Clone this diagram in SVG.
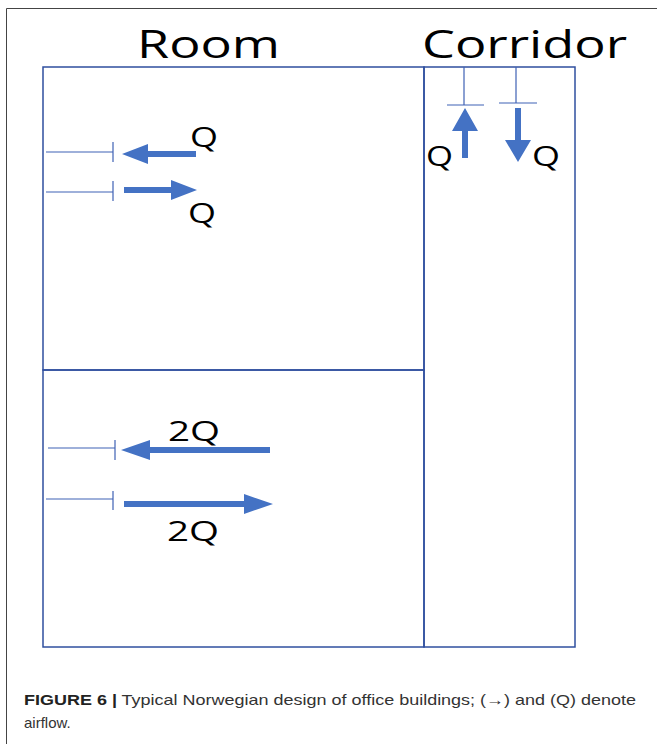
<svg xmlns="http://www.w3.org/2000/svg" width="657" height="744" viewBox="0 0 657 744">
<style>
.frame{fill:none;stroke:#2f4f9f;stroke-width:1.5}
.thin{stroke:#3f62b5;stroke-width:1.2;fill:none}
.arrow{fill:#4472c4}
.lbl{font-family:"Open Sans","Noto Sans",sans-serif;fill:#000}
.q{font-size:27px}
.cap{font-family:"Liberation Sans",Arial,sans-serif;font-size:15px;fill:#333}
</style>
<rect x="0" y="0" width="657" height="744" fill="#fff"/>
<path d="M6.5 744V8.5H657" fill="none" stroke="#444" stroke-width="1"/>
<g id="titles">
<text class="lbl" x="137" y="58" font-size="39" textLength="143" lengthAdjust="spacingAndGlyphs">Room</text>
<text class="lbl" x="422" y="58" font-size="39" textLength="205" lengthAdjust="spacingAndGlyphs">Corridor</text>
</g>
<g id="room-upper"><rect class="frame" x="43" y="67" width="381" height="303"/></g>
<g id="room-lower"><rect class="frame" x="43" y="370" width="381" height="277"/></g>
<g id="corridor"><rect class="frame" x="424" y="67" width="151" height="580"/></g>
<g id="connectors">
<path class="thin" d="M46 152H113M113 142V162M46 192H113M113 181V201"/>
<path class="thin" d="M48 448H115M115 440V460M46 499H113M113 491V510"/>
<path class="thin" d="M464 67V105M447 105H484M516 67V103M499 103H537"/>
<path class="arrow" d="M122 154L148 144V151H196V157H148V164Z"/>
<path class="arrow" d="M197 190L171 180V187H124V193H171V200Z"/>
<path class="arrow" d="M121 450L150 440V447H270V453H150V460Z"/>
<path class="arrow" d="M273 504L244 494V501H124V507H244V514Z"/>
<path class="arrow" d="M465 108L478 131H468V158H462V131H452Z"/>
<path class="arrow" d="M518 162L505 140H515V108H521V140H531Z"/>
</g>
<g id="labels">
<text class="lbl q" x="190" y="147" textLength="28" lengthAdjust="spacingAndGlyphs">Q</text>
<text class="lbl q" x="188" y="223" textLength="28" lengthAdjust="spacingAndGlyphs">Q</text>
<text class="lbl q" x="168" y="441" textLength="52" lengthAdjust="spacingAndGlyphs">2Q</text>
<text class="lbl q" x="167" y="541" textLength="52" lengthAdjust="spacingAndGlyphs">2Q</text>
<text class="lbl q" x="426" y="166" textLength="27" lengthAdjust="spacingAndGlyphs">Q</text>
<text class="lbl q" x="532" y="166" textLength="28" lengthAdjust="spacingAndGlyphs">Q</text>
</g>
<g id="caption">
<text class="cap" x="24" y="705" textLength="612" lengthAdjust="spacingAndGlyphs"><tspan font-weight="bold" fill="#222">FIGURE 6 |</tspan> Typical Norwegian design of office buildings; (→) and (Q) denote</text>
<text class="cap" x="24" y="728">airflow.</text>
</g>
</svg>
